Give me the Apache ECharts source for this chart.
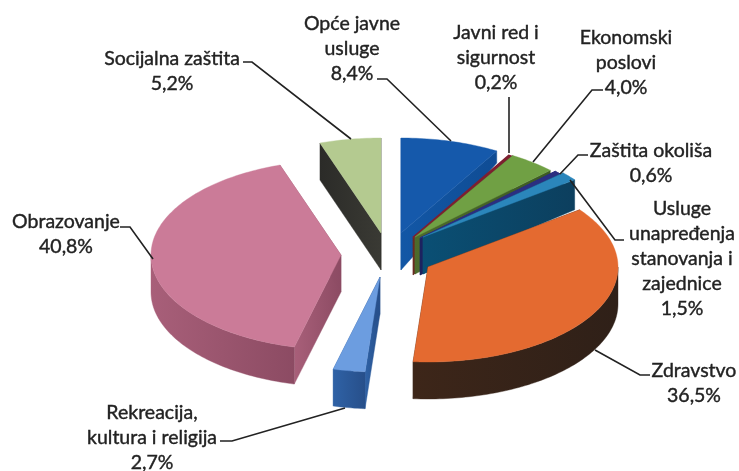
<!DOCTYPE html>
<html>
<head>
<meta charset="utf-8">
<style>html,body{margin:0;padding:0;background:#fff}#c{width:739px;height:471px}</style>
<script src="https://cdn.jsdelivr.net/npm/echarts@6/dist/echarts.min.js"></script>
</head>
<body>
<div id="c"></div>
<script>
// Data
const categories = ['Opće javne\nusluge','Javni red i\nsigurnost','Ekonomski\nposlovi','Zaštita okoliša','Usluge\nunapređenja\nstanovanja i\nzajednice','Zdravstvo','Rekreacija,\nkultura i religija','Obrazovanje','Socijalna zaštita'];
const values = [8.4,0.2,4.0,0.6,1.5,36.5,2.7,40.8,5.2];

// Styling / layout
const topColors = ['#1559ab','#7d1f30','#70a044','#2b2f80','#2b86bb','#e46a30','#6c9de0','#cb7b98','#b4ca90'];
const sideColors = [['#1257a6','#0f4c94'],['#6a2a22','#5a2a1e'],['#4d6b2c','#3d5a24'],['#1c2260','#1c2260'],['#0a4f74','#0c3f5e'],['#3d2619','#2f2018'],['#2f62a6','#274f8a'],['#a85f79','#8c4b63'],['#2b2b28','#3a3a34']];
const topStroke = [0.4,2.4,0.4,1,0.4,0.4,0.4,0.4,0.4];
const apexes = [[401,233],[413,238],[415,237],[420,238],[423,237],[428,267],[380,277],[341,255],[381,233]];
const RX = 190, RY = 95, DEPTH = 37;
const rimDepth = [12,37,37,37,30,37,37,37,37];
const labelPos = [[352,11],[496,20],[626,25],[651,138],[682,196],[694,358],[152,400],[66,209],[172,46]];
const leaders = [
  [[377,79],[387,79],[451,141]],
  [[509,97],[509,153]],
  [[603,90],[592,90],[533,162]],
  [[588,155],[578,155],[560,174]],
  [[624,240],[615,240],[570,180]],
  [[595,350],[640,375],[650,375]],
  [[220,441],[232,441],[345,408]],
  [[120,227],[130,227],[153,259]],
  [[243,62],[252,62],[351,139]]
];
const total = values.reduce((a,b)=>a+b,0);
const spans = []; let acc = 0;
values.forEach(v=>{ spans.push([acc/total*2*Math.PI,(acc+v)/total*2*Math.PI]); acc+=v; });
const fmt = v => v.toFixed(1).replace('.',',')+'%';

function sliceShapes(params, api){
  const i = params.dataIndex, [a0,a1] = spans[i], [ax,ay] = apexes[i];
  const pt = (a,d=0)=>[ax+RX*Math.sin(a), ay-RY*Math.cos(a)+d];
  const px = p => api.coord(p);
  const arc = (s,e,d=0)=>{ const n=Math.max(2,Math.ceil((e-s)/0.02)),o=[]; for(let k=0;k<=n;k++) o.push(pt(s+(e-s)*k/n,d)); return o; };
  const grad = {type:'linear',x:0,y:0,x2:1,y2:0,colorStops:[{offset:0,color:sideColors[i][0]},{offset:1,color:sideColors[i][1]}]};
  const poly = (pts,fill,w)=>({type:'polygon',shape:{points:pts.map(px)},style:{fill,stroke:fill,lineWidth:w||0.4}});
  const kids = [];
  // cut faces
  [a0,a1].forEach(a=>{ const p=pt(a); kids.push(poly([[ax,ay],p,[p[0],p[1]+rimDepth[i]],[ax,ay+DEPTH]],grad)); });
  // outer wall on the front half of the rim
  const s=Math.max(a0,Math.PI/2), e=Math.min(a1,Math.PI*1.5);
  if(e>s) kids.push(poly(arc(s,e).concat(arc(s,e,DEPTH).reverse()),grad));
  // top face
  kids.push(poly([[ax,ay]].concat(arc(a0,a1)),topColors[i],topStroke[i]));
  return {type:'group',children:kids};
}
function labelShapes(params, api){
  const i = params.dataIndex, p = api.coord(labelPos[i]);
  return {type:'group',children:[
    {type:'polyline',shape:{points:leaders[i].map(q=>api.coord(q))},style:{fill:null,stroke:'#222',lineWidth:1.6}},
    {type:'text',x:p[0],y:p[1],style:{text:categories[i]+'\n'+fmt(values[i]),textAlign:'center',textVerticalAlign:'top',fill:'#222',stroke:'#222',lineWidth:0.4,font:'19.5px Lato, sans-serif',lineHeight:25}}
  ]};
}
const chart = echarts.init(document.getElementById('c'),null,{renderer:'canvas'});
chart.setOption({
  animation:false,
  backgroundColor:'#fff',
  grid:{left:0,right:0,top:0,bottom:0},
  xAxis:{type:'value',min:0,max:739,show:false},
  yAxis:{type:'value',min:0,max:471,inverse:true,show:false},
  series:[
    {type:'custom',name:'slices',clip:false,renderItem:sliceShapes,data:values.map((v,i)=>[i,v]),encode:{x:0,y:1},silent:true},
    {type:'custom',name:'labels',clip:false,z:5,renderItem:labelShapes,data:values.map((v,i)=>[i,v]),encode:{x:0,y:1},silent:true}
  ]
});
</script>
</body>
</html>
